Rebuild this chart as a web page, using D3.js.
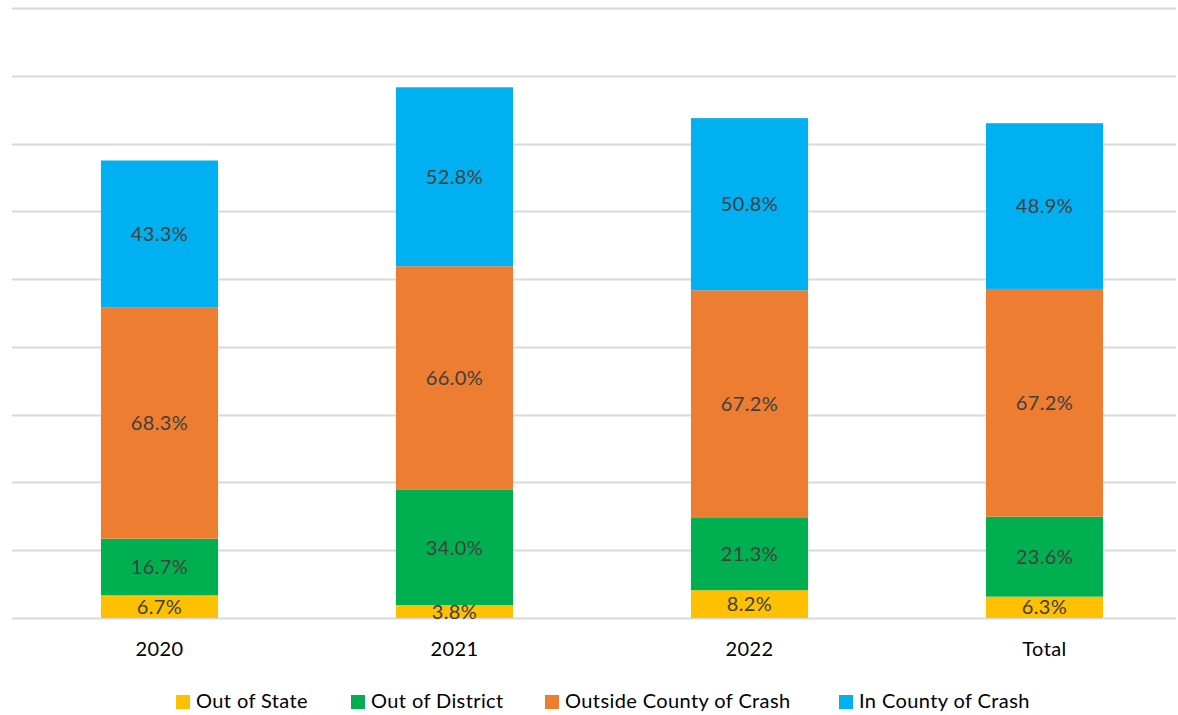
<!DOCTYPE html>
<html>
<head>
<meta charset="utf-8">
<script src="https://cdn.jsdelivr.net/npm/d3@7"></script>
<style>
  body { margin: 0; background: #fff; }
  svg { display: block; font-family: Lato, "Open Sans", sans-serif; letter-spacing: 0.4px; }
</style>
</head>
<body>
<div id="chart"></div>
<script>
var categories = ["2020", "2021", "2022", "Total"];
var seriesNames = ["Out of State", "Out of District", "Outside County of Crash", "In County of Crash"];
var seriesColors = ["#FFC000", "#00B050", "#ED7D31", "#00B0F0"];
var outOfState = [6.7, 3.8, 8.2, 6.3];
var outOfDistrict = [16.7, 34.0, 21.3, 23.6];
var outsideCounty = [68.3, 66.0, 67.2, 67.2];
var inCounty = [43.3, 52.8, 50.8, 48.9];
var yTicks = [0, 20, 40, 60, 80, 100, 120, 140, 160, 180];

var width = 1178, height = 715;
var svg = d3.select("#chart").append("svg")
    .attr("width", width)
    .attr("height", height);

var x = d3.scaleBand()
    .domain(categories)
    .range([12, 1192])
    .paddingInner(0.603)
    .paddingOuter(0.3015);

var y = d3.scaleLinear()
    .domain([0, 180])
    .range([618, 8]);

// gridlines
svg.append("g")
    .selectAll("line")
    .data(yTicks)
    .enter().append("line")
    .attr("x1", 12)
    .attr("x2", 1176)
    .attr("y1", function(d) { return Math.round(y(d)) + 0.5; })
    .attr("y2", function(d) { return Math.round(y(d)) + 0.5; })
    .attr("stroke", "#d9d9d9")
    .attr("stroke-width", 2);

var rows = categories.map(function(c, i) {
    return {
        cat: c,
        s0: outOfState[i],
        s1: outOfDistrict[i],
        s2: outsideCounty[i],
        s3: inCounty[i]
    };
});
var stack = d3.stack().keys(["s0", "s1", "s2", "s3"]);
var layers = stack(rows);

var layer = svg.append("g")
    .selectAll("g")
    .data(layers)
    .enter().append("g")
    .attr("fill", function(d, i) { return seriesColors[i]; });

layer.selectAll("rect")
    .data(function(d) { return d; })
    .enter().append("rect")
    .attr("x", function(d) { return x(d.data.cat); })
    .attr("width", x.bandwidth())
    .attr("y", function(d) { return y(d[1]); })
    .attr("height", function(d) { return y(d[0]) - y(d[1]); });

layer.selectAll("text")
    .data(function(d) { return d; })
    .enter().append("text")
    .attr("x", function(d) { return x(d.data.cat) + x.bandwidth() / 2; })
    .attr("y", function(d) { return (y(d[0]) + y(d[1])) / 2; })
    .attr("dy", "0.35em")
    .attr("text-anchor", "middle")
    .attr("fill", "#404040")
    .attr("font-size", 20)
    .text(function(d) { return (d[1] - d[0]).toFixed(1) + "%"; });

// x axis labels
svg.append("g")
    .selectAll("text")
    .data(categories)
    .enter().append("text")
    .attr("x", function(d) { return x(d) + x.bandwidth() / 2; })
    .attr("y", 656)
    .attr("text-anchor", "middle")
    .attr("fill", "#000")
    .attr("font-size", 20)
    .text(function(d) { return d; });

// legend
var legendX = [176, 351, 545, 839];
var legend = svg.append("g")
    .selectAll("g")
    .data(seriesNames)
    .enter().append("g")
    .attr("transform", function(d, i) { return "translate(" + legendX[i] + ",695)"; });

legend.append("rect")
    .attr("width", 14)
    .attr("height", 14)
    .attr("fill", function(d, i) { return seriesColors[i]; });

legend.append("text")
    .attr("x", 20)
    .attr("y", 13)
    .attr("font-size", 20)
    .attr("fill", "#000")
    .text(function(d) { return d; });
</script>
</body>
</html>
